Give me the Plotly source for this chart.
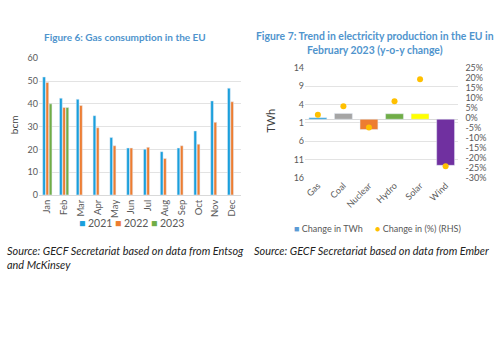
import plotly.graph_objects as go

# ---- Figure 6 data ----
months = ["Jan", "Feb", "Mar", "Apr", "May", "Jun", "Jul", "Aug", "Sep", "Oct", "Nov", "Dec"]
gas_2021 = [51.8, 42.5, 42.0, 34.8, 25.2, 20.6, 20.1, 19.0, 20.6, 28.1, 41.3, 46.9]
gas_2022 = [49.4, 38.4, 39.3, 29.5, 21.6, 20.6, 20.9, 16.0, 21.6, 22.3, 31.9, 40.9]
gas_2023 = [40.0, 38.4, None, None, None, None, None, None, None, None, None, None]
years = ["2021", "2022", "2023"]
year_colors = ["#1a9fdc", "#ed7d31", "#70ad47"]

# ---- Figure 7 data ----
sources = ["Gas", "Coal", "Nuclear", "Hydro", "Solar", "Wind"]
change_twh = [0.4, 1.6, -2.8, 1.5, 1.5, -12.6]
change_pct = [0.016, 0.059, -0.048, 0.083, 0.194, -0.242]
bar_colors = ["#1f9ad6", "#a5a5a5", "#ed7d31", "#70ad47", "#ffff00", "#7030a0"]

left_ticks = [14, 9, 4, -1, -6, -11, -16]
left_ticktext = ["14", "9", "4", "1", "6", "11", "16"]
right_ticks = [0.25, 0.20, 0.15, 0.10, 0.05, 0.0, -0.05, -0.10, -0.15, -0.20, -0.25, -0.30]
right_ticktext = ["25%", "20%", "15%", "10%", "5%", "0%", "-5%", "-10%", "-15%", "-20%", "-25%", "-30%"]

FONT = "Lato"
TICKCOL = "#595959"
GRID = "#e3e3e3"

fig = go.Figure()

for yr, vals, col in zip(years, [gas_2021, gas_2022, gas_2023], year_colors):
    fig.add_trace(go.Bar(x=months, y=vals, name=yr, marker_color=col,
                         xaxis="x", yaxis="y", showlegend=False))

fig.add_trace(go.Bar(x=sources, y=change_twh, name="Change in TWh", marker_color=bar_colors,
                     xaxis="x2", yaxis="y2", offsetgroup="r", width=0.7, showlegend=False))
fig.add_trace(go.Scatter(x=sources, y=change_pct, name="Change in (%) (RHS)", mode="markers",
                         marker=dict(color="#ffc000", size=6),
                         xaxis="x2", yaxis="y3", showlegend=False))

W, H = 500, 353
def px(x):
    return x / W
def py(y):
    return 1 - y / H

fig.update_layout(
    width=W, height=H,
    margin=dict(l=0, r=0, t=0, b=0),
    paper_bgcolor="white", plot_bgcolor="white",
    font=dict(family=FONT, size=9, color=TICKCOL),
    barmode="group",
    bargap=0.42,
    bargroupgap=0.15,
    xaxis=dict(domain=[px(38), px(240)], tickangle=-90, showgrid=False,
               showline=True, linecolor="#d9d9d9", ticks="", tickfont=dict(size=9.5, color=TICKCOL)),
    yaxis=dict(domain=[py(195), py(54)], range=[0, 60], dtick=10, showgrid=True, gridcolor=GRID,
               zeroline=False, ticks="", tickfont=dict(size=9, color=TICKCOL)),
    xaxis2=dict(domain=[px(304.7), px(458.3)], anchor="y2", tickangle=-45, showgrid=False,
                showline=False, ticks="", tickfont=dict(size=9, color=TICKCOL)),
    yaxis2=dict(domain=[py(177.3), py(64)], anchor="x2", range=[-16, 14], tickvals=left_ticks,
                ticktext=left_ticktext, showgrid=True, gridcolor=GRID, zeroline=True,
                zerolinecolor="#d9d9d9", zerolinewidth=1, ticks="",
                tickfont=dict(size=9, color=TICKCOL)),
    yaxis3=dict(overlaying="y2", side="right", anchor="x2", range=[-0.30, 0.25],
                tickvals=right_ticks, ticktext=right_ticktext, showgrid=False, zeroline=False,
                ticks="", ticklabelstandoff=6, tickfont=dict(size=9, color=TICKCOL)),
    showlegend=False,
)

TITLE_COL = "#4f94cd"
ann = [
    dict(text="<b>Figure 6: Gas consumption in the EU</b>", x=px(124), y=py(32),
         font=dict(size=10, color=TITLE_COL, family=FONT)),
    dict(text="<b>Figure 7: Trend in electricity production in the EU in<br>February 2023 (y-o-y change)</b>",
         x=px(375), y=py(38.5), font=dict(size=10.4, color=TITLE_COL, family=FONT)),
    dict(text="bcm", x=px(13), y=py(122), textangle=-90,
         font=dict(size=10, color="#404040", family=FONT)),
    dict(text="TWh", x=px(270), y=py(118), textangle=-90,
         font=dict(size=11, color="#404040", family=FONT)),
    dict(text="<i>Source: GECF Secretariat based on data from Entsog<br>and McKinsey</i>",
         x=px(4), y=py(244), xanchor="left", yanchor="top", align="left",
         font=dict(size=10.9, color="#222222", family=FONT)),
    dict(text="<i>Source: GECF Secretariat based on data from Ember</i>",
         x=px(252), y=py(244), xanchor="left", yanchor="top", align="left",
         font=dict(size=10.9, color="#222222", family=FONT)),
]
# manual legends
for xpos, yr, col in zip([76, 112, 148], years, year_colors):
    ann.append(dict(text=f"<span style='color:{col}'>■</span> {yr}", x=px(xpos), y=py(224),
                    xanchor="left", font=dict(size=10.5, color=TICKCOL, family=FONT)))
ann.append(dict(text="<span style='color:#5b9bd5'>■</span> Change in TWh", x=px(292), y=py(230),
                xanchor="left", font=dict(size=9, color=TICKCOL, family=FONT)))
ann.append(dict(text="<span style='color:#ffc000'>●</span> Change in (%) (RHS)", x=px(373), y=py(230),
                xanchor="left", font=dict(size=9, color=TICKCOL, family=FONT)))

for a in ann:
    a.setdefault("xanchor", "center")
    a.setdefault("yanchor", "middle")
    a.update(xref="paper", yref="paper", showarrow=False)
fig.update_layout(annotations=ann)

fig.write_html("out.html")
